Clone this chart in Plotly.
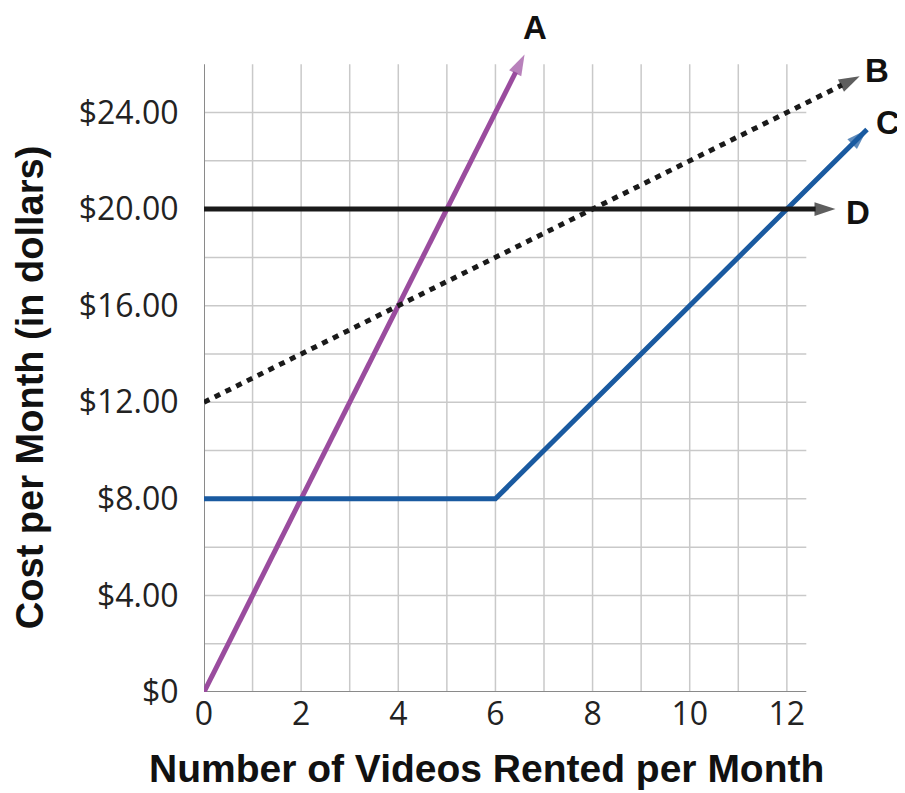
import plotly.graph_objects as go

# data
videos_a = [0, 6.6]
cost_a = [0, 26.4]

videos_b = [0, 13.5]
cost_b = [12, 25.5]

videos_c = [0, 6, 13.65]
cost_c = [8, 8, 23.3]

videos_d = [0, 13.0]
cost_d = [20, 20]

line_names = ["A", "B", "C", "D"]
x_ticks = [0, 2, 4, 6, 8, 10, 12]
y_ticks = [0, 4, 8, 12, 16, 20, 24]
y_tick_text = ["$0", "$4.00", "$8.00", "$12.00", "$16.00", "$20.00", "$24.00"]

series = [
    (videos_a, cost_a, "#9a4c9e", "solid"),
    (videos_b, cost_b, "#1a1a1a", "6px,6px"),
    (videos_c, cost_c, "#1a5aa0", "solid"),
    (videos_d, cost_d, "#1a1a1a", "solid"),
]
# pixel offsets of the letter labels from each arrow tip
label_shift = {"A": (10, 27), "B": (17, 6), "C": (21, 7), "D": (23, -3)}

fig = go.Figure()

# grid lines (drawn as shapes so the lines can run past the grid)
grid_color = "#c9c9c9"
shapes = []
for gx in range(1, 13):
    shapes.append(dict(type="line", xref="x", yref="y", x0=gx, x1=gx, y0=0, y1=26,
                       line=dict(color=grid_color, width=1.5), layer="below"))
for gy in range(2, 25, 2):
    shapes.append(dict(type="line", xref="x", yref="y", x0=0, x1=12.4, y0=gy, y1=gy,
                       line=dict(color=grid_color, width=1.5), layer="below"))
# axis lines
shapes.append(dict(type="line", xref="x", yref="y", x0=0, x1=12.4, y0=0, y1=0,
                   line=dict(color="#8a8a8a", width=2), layer="below"))
shapes.append(dict(type="line", xref="x", yref="y", x0=0, x1=0, y0=0, y1=26,
                   line=dict(color="#8a8a8a", width=2), layer="below"))

annotations = []
for name, (xs, ys, color, dash) in zip(line_names, series):
    sizes = [0] * (len(xs) - 1) + [22]
    fig.add_trace(go.Scatter(
        x=xs, y=ys, mode="lines+markers", name=name,
        line=dict(color=color, width=5, dash=dash),
        marker=dict(symbol="arrow", angleref="previous", size=sizes, color=color,
                    line=dict(width=0)),
        cliponaxis=False,
        hoverinfo="skip",
    ))
    dx, dy = label_shift[name]
    annotations.append(dict(
        x=xs[-1], y=ys[-1], xref="x", yref="y", text="<b>" + name + "</b>",
        showarrow=False, xshift=dx, yshift=dy,
        font=dict(family="Liberation Sans", size=33, color="#111111"),
    ))

# axis titles as annotations so they don't push the margins
annotations.append(dict(
    x=0.416, y=-0.1145, xref="paper", yref="paper", xanchor="center", yanchor="middle",
    text="<b>Number of Videos Rented per Month</b>", showarrow=False,
    font=dict(family="Liberation Sans", size=39, color="#111111"),
))
annotations.append(dict(
    x=-0.256, y=0.459, xref="paper", yref="paper", xanchor="center", yanchor="middle",
    text="<b>Cost per Month (in dollars)</b>", showarrow=False, textangle=-90,
    font=dict(family="Liberation Sans", size=38, color="#111111"),
))

# the page body adds an 8px margin, so the figure is 8px smaller than the window
fig.update_layout(
    width=897,
    height=785,
    margin=dict(l=196, r=21, t=20, b=101),
    plot_bgcolor="white",
    paper_bgcolor="white",
    showlegend=False,
    shapes=shapes,
    annotations=annotations,
    xaxis=dict(
        range=[0, 14],
        automargin=False,
        showgrid=False,
        zeroline=False,
        showline=False,
        tickvals=x_ticks,
        ticks="",
        tickfont=dict(family="Open Sans", size=32, color="#222222"),
    ),
    yaxis=dict(
        range=[0, 27.5],
        automargin=False,
        showgrid=False,
        zeroline=False,
        showline=False,
        tickvals=y_ticks,
        ticktext=y_tick_text,
        ticks="outside",
        ticklen=18,
        tickcolor="rgba(0,0,0,0)",
        tickfont=dict(family="Open Sans", size=32, color="#222222"),
    ),
)

fig.write_html("out.html")
